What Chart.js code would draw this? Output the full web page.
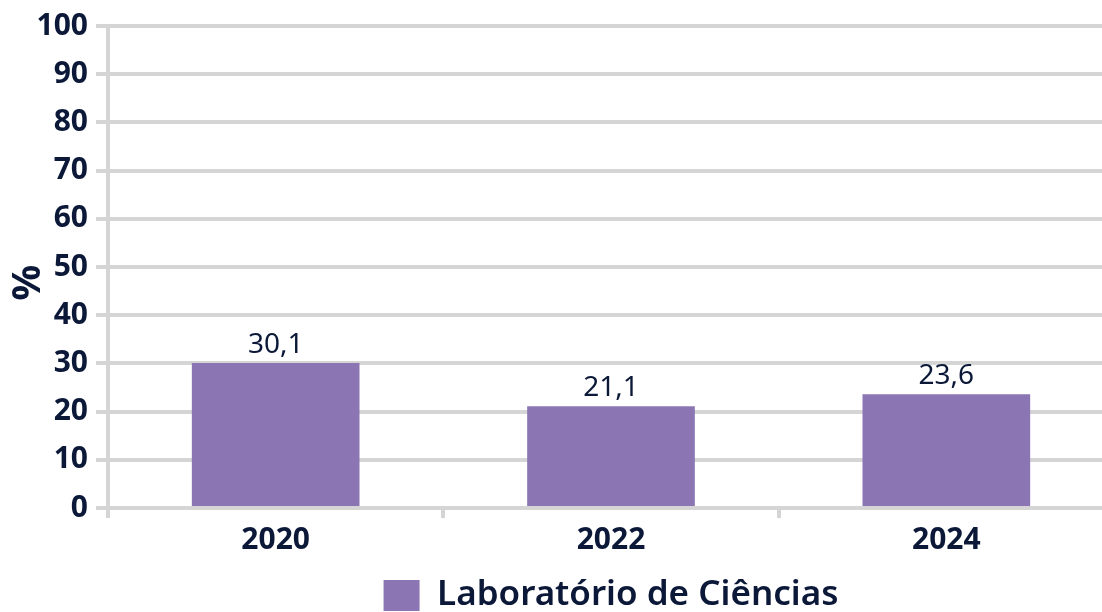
<!DOCTYPE html>
<html>
<head>
<meta charset="utf-8">
<script src="https://cdn.jsdelivr.net/npm/chart.js@4.4.1/dist/chart.umd.min.js"></script>
<style>
  html, body { margin: 0; padding: 0; background: #fff; overflow: hidden; }
  #wrap { position: relative; width: 1114px; height: 612px; }
</style>
</head>
<body>
<div id="wrap"><canvas id="myChart"></canvas></div>
<script>
// data
const years = ["2020", "2022", "2024"];
const labValues = [30.1, 21.1, 23.6];
const seriesName = "Laboratório de Ciências";
const yTicks = [0, 10, 20, 30, 40, 50, 60, 70, 80, 90, 100];

const textColor = "#0b1838";
const gridColor = "#d5d5d5";
const barColor = "#8b76b3";
const fontFam = "'Noto Sans'";

// value labels above the bars, comma as decimal sign
const barLabels = {
	id: "barLabels",
	afterDatasetsDraw(chart) {
		const ctx = chart.ctx;
		ctx.save();
		ctx.font = "400 28px " + fontFam;
		ctx.fillStyle = textColor;
		ctx.textAlign = "center";
		ctx.textBaseline = "bottom";
		chart.getDatasetMeta(0).data.forEach((bar, i) => {
			const txt = labValues[i].toFixed(1).replace(".", ",");
			ctx.fillText(txt, bar.x, bar.y - 4);
		});
		ctx.restore();
	},
};

var ctx = document.getElementById("myChart").getContext("2d");
var myChart = new Chart(ctx, {
	type: "bar",
	data: {
		labels: years,
		datasets: [
			{
				label: seriesName,
				data: labValues,
				backgroundColor: barColor,
				borderWidth: 0,
				categoryPercentage: 1,
				barPercentage: 0.5,
			},
		],
	},
	options: {
		responsive: true,
		maintainAspectRatio: false,
		animation: false,
		layout: {
			padding: { top: 8, left: 0, right: 0, bottom: -11 },
		},
		plugins: {
			tooltip: { enabled: false },
			legend: {
				position: "bottom",
				fullSize: false,
				labels: {
					color: textColor,
					font: { family: fontFam, size: 35, weight: "600", lineHeight: 1 },
					boxWidth: 36,
					boxHeight: 31,
					padding: 0,
				},
			},
		},
		scales: {
			x: {
				offset: true,
				afterFit(axis) {
					axis.height = 70;
				},
				grid: {
					display: true,
					offset: true,
					drawOnChartArea: false,
					drawTicks: true,
					tickLength: 10,
					color: gridColor,
					lineWidth: 4,
				},
				border: { display: false },
				ticks: {
					color: textColor,
					padding: 4,
					font: { family: fontFam, size: 30, weight: "bold" },
				},
			},
			y: {
				min: 0,
				max: 100,
				afterBuildTicks(axis) {
					axis.ticks = yTicks.map((v) => ({ value: v }));
				},
				afterFit(axis) {
					axis.width = 108;
				},
				grid: {
					color: gridColor,
					lineWidth: 4,
					drawTicks: true,
					tickLength: 12,
				},
				border: { display: true, color: gridColor, width: 4 },
				ticks: {
					color: textColor,
					padding: 8,
					font: { family: fontFam, size: 30, weight: "bold" },
				},
				title: {
					display: true,
					text: "%   ",
					color: textColor,
					padding: { top: 9, bottom: 0 },
					font: { family: fontFam, size: 40, weight: "bold", lineHeight: 1 },
				},
			},
		},
	},
	plugins: [barLabels],
});
</script>
</body>
</html>
